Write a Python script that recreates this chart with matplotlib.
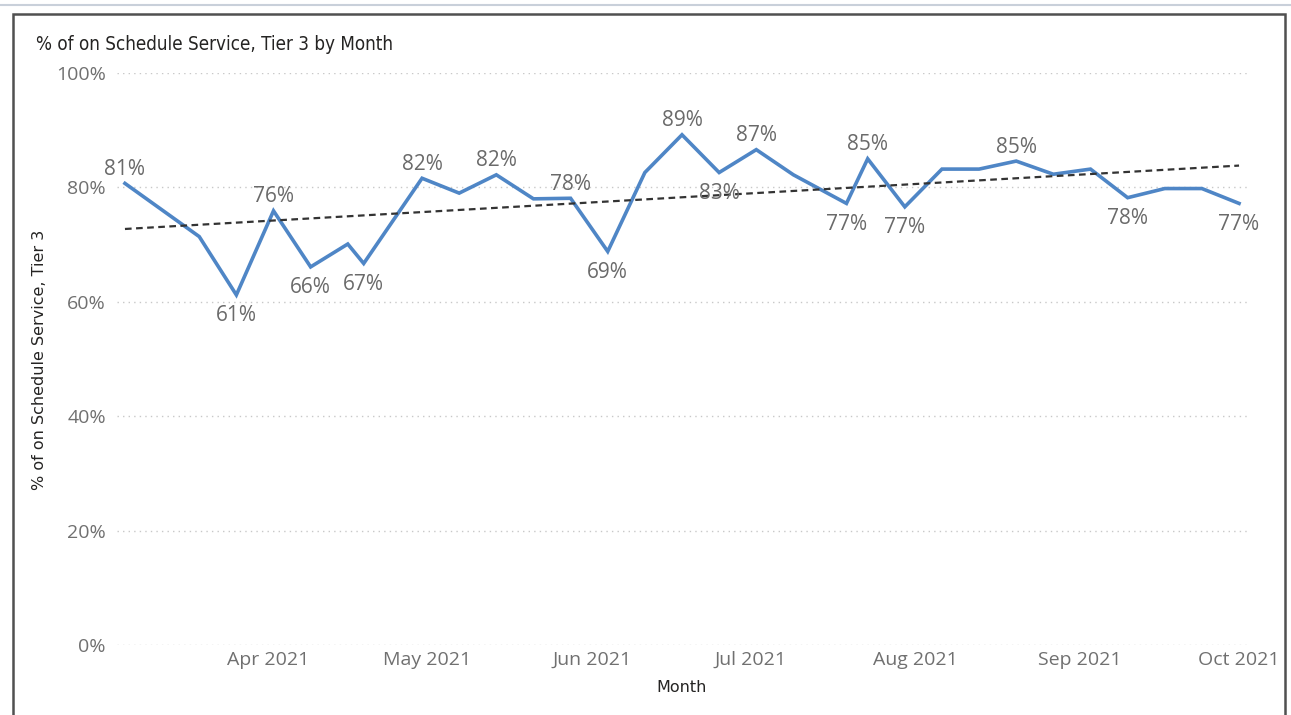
import matplotlib
matplotlib.use("Agg")
import matplotlib.pyplot as plt
import matplotlib.dates as mdates
import numpy as np
from datetime import datetime, timedelta
from matplotlib.patches import Rectangle
from matplotlib.lines import Line2D

# ---- data ----
dates = ["2021-03-05", "2021-03-19", "2021-03-26", "2021-04-02", "2021-04-09",
         "2021-04-16", "2021-04-19", "2021-04-30", "2021-05-07", "2021-05-14",
         "2021-05-21", "2021-05-28", "2021-06-04", "2021-06-11", "2021-06-18",
         "2021-06-25", "2021-07-02", "2021-07-09", "2021-07-19", "2021-07-23",
         "2021-07-30", "2021-08-06", "2021-08-13", "2021-08-20", "2021-08-27",
         "2021-09-03", "2021-09-10", "2021-09-17", "2021-09-24", "2021-10-01"]
values = [80.7, 71.4, 61.2, 75.9, 66.1, 70.1, 66.7, 81.6, 79.0, 82.2,
          78.0, 78.1, 68.8, 82.6, 89.2, 82.6, 86.6, 82.2, 77.2, 85.0,
          76.6, 83.2, 83.2, 84.6, 82.3, 83.2, 78.2, 79.8, 79.8, 77.2]
# label placement: 1 = above, -1 = below, 0 = no label
label_pos = [1, 0, -1, 1, -1, 0, -1, 1, 0, 1,
             0, 1, -1, 0, 1, -1, 1, 0, -1, 1,
             -1, 0, 0, 1, 0, 0, -1, 0, 0, -1]
y_ticks = [0, 20, 40, 60, 80, 100]
x_tick_labels = ["Apr 2021", "May 2021", "Jun 2021", "Jul 2021", "Aug 2021", "Sep 2021", "Oct 2021"]
x_tick_dates = ["2021-04-01", "2021-05-01", "2021-06-01", "2021-07-01", "2021-08-01", "2021-09-01", "2021-10-01"]
title = "% of on Schedule Service, Tier 3 by Month"
x_title = "Month"
y_title = "% of on Schedule Service, Tier 3"

# ---- figure ----
W, H = 1291, 715
fig = plt.figure(figsize=(W / 100, H / 100), dpi=100)
fig.patch.set_facecolor("white")

def fx(px):
    return px / W

def fy(py):
    return 1 - py / H

# plot area in pixels
L, R, T, B = 117, 1247, 73, 645
ax = fig.add_axes([fx(L), fy(B), fx(R) - fx(L), fy(T) - fy(B)])

dt = [datetime.strptime(d, "%Y-%m-%d") for d in dates]
xn = mdates.date2num(dt)
vals = np.array(values)

apr1 = datetime(2021, 4, 1)
ax.set_xlim(mdates.date2num(apr1 - timedelta(days=28.5)),
            mdates.date2num(apr1 + timedelta(days=184.5)))
ax.set_ylim(0, 100)

# gridlines
for yt in y_ticks:
    ax.axhline(yt, color="#c8c8c8", lw=1.0, ls=(0, (1, 3)), zorder=0)

# main line
blue = "#4f86c6"
ax.plot(xn, vals, color=blue, lw=2.6, solid_joinstyle="miter", zorder=3)

# trend line (least squares)
k, b0 = np.polyfit(xn, vals, 1)
tx = np.array([xn[0], xn[-1]])
ax.plot(tx, k * tx + b0, color="#333333", lw=1.6, ls=(0, (3, 2)), zorder=4)

# data labels
for x, v, p in zip(xn, vals, label_pos):
    if p == 0:
        continue
    txt = f"{int(v + 0.5)}%"
    off_px = 14 if p > 0 else -21
    ax.annotate(txt, (x, v), xytext=(0, off_px * 0.72), textcoords="offset points",
                ha="center", va="center", fontsize=15, color="#6a6a6a",
                family="Open Sans", zorder=5)

# axes styling
for s in ax.spines.values():
    s.set_visible(False)
ax.set_yticks(y_ticks)
ax.set_yticklabels([f"{t}%" for t in y_ticks])
ax.set_xticks(mdates.date2num([datetime.strptime(d, "%Y-%m-%d") for d in x_tick_dates]))
ax.set_xticklabels(x_tick_labels)
ax.tick_params(axis="both", length=0, labelsize=14, labelcolor="#707070")
ax.tick_params(axis="y", pad=8)
ax.tick_params(axis="x", pad=4)
for lbl in ax.get_xticklabels() + ax.get_yticklabels():
    lbl.set_family("Open Sans")

# titles
fig.text(fx(36), fy(44), title, ha="left", va="center", fontsize=13.5,
         color="#252423", family="DejaVu Sans", fontstretch="condensed")
fig.text(fx(682), fy(688), x_title, ha="center", va="center", fontsize=11.5,
         color="#252423", family="DejaVu Sans")
fig.text(fx(40), fy(360), y_title, ha="center", va="center", fontsize=11.5,
         color="#252423", family="DejaVu Sans", rotation=90)

# frame
fig.add_artist(Line2D([0, 1], [fy(5), fy(5)], transform=fig.transFigure,
                      color="#c9d0da", lw=1.5))
fig.add_artist(Rectangle((fx(13), fy(H + 5)), fx(1285) - fx(13), fy(14) - fy(H + 5),
                         transform=fig.transFigure, fill=False,
                         edgecolor="#505050", lw=1.8))

fig.savefig("out.png", dpi=100, facecolor="white")
